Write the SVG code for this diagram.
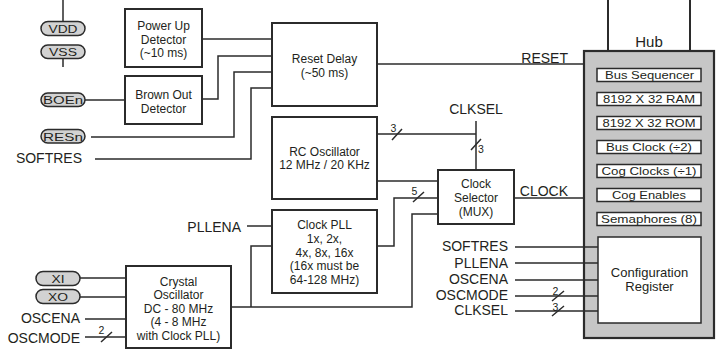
<svg xmlns="http://www.w3.org/2000/svg" width="720" height="349" viewBox="0 0 720 349">
<style>
text{font-family:"Liberation Sans",Arial,sans-serif;fill:#231f20}
.box{fill:#fff;stroke:#2b2b2b;stroke-width:2}
.pill{fill:#d2d2d2;stroke:#2b2b2b;stroke-width:1.5}
.w{fill:none;stroke:#2b2b2b;stroke-width:1.5}
.bt{font-size:12px;text-anchor:middle}
.lb{font-size:14px}
.pt{font-size:11.4px;text-anchor:middle}
.ht{font-size:11.5px;text-anchor:middle}
.n{font-size:10.5px}
.e{text-anchor:end}
.ib{fill:#fff;stroke:#2b2b2b;stroke-width:1.5}
</style>
<g id="connectors">
<path class="w" d="M63,0V21.5M63,58.5V67"/>
<path class="w" d="M85,100H125"/>
<path class="w" d="M202,39H272"/>
<path class="w" d="M202,99H218V56H272"/>
<path class="w" d="M91,137H234V72H272"/>
<path class="w" d="M95,159H251V88H272"/>
<path class="w" d="M377,64H584"/>
<path class="w" d="M377,134H476M476,121V170"/>
<path class="w" d="M377,181H438"/>
<path class="w" d="M514,198H584"/>
<path class="w" d="M247,226H272"/>
<path class="w" d="M377,246H394V198H438"/>
<path class="w" d="M231,307H412V214H438"/>
<path class="w" d="M251,307V246H272"/>
<path class="w" d="M80,278H126M80,297H126M85,319H126M85,337H126"/>
<path class="w" d="M515,247H598M515,263H598M515,280H598M515,296H598M515,311H598"/>
<path class="w" d="M608,0V51M690,0V51" style="stroke-width:2"/>
<path class="w" d="M392,140L402,129M471,150L481,139M413,202L424,192M101,342L112,332M552,301L564,291M552,316L564,306"/>
<text class="n" x="393.5" y="132" text-anchor="middle">3</text>
<text class="n" x="478" y="153">3</text>
<text class="n" x="414.5" y="195" text-anchor="middle">5</text>
<text class="n" x="101.5" y="334" text-anchor="middle">2</text>
<text class="n" x="555.5" y="295" text-anchor="middle">2</text>
<text class="n" x="555.5" y="311" text-anchor="middle">3</text>
<text class="lb e" x="568" y="63">RESET</text>
<text class="lb" x="476" y="114" text-anchor="middle">CLKSEL</text>
<text class="lb e" x="568" y="196">CLOCK</text>
</g>
<g id="vdd"><rect class="pill" x="41" y="21.5" width="44" height="14" rx="7"/><text class="pt" x="63" y="33.2" textLength="29" lengthAdjust="spacingAndGlyphs">VDD</text></g>
<g id="vss"><rect class="pill" x="41" y="45" width="44" height="13.5" rx="6.75"/><text class="pt" x="63" y="56.3" textLength="28" lengthAdjust="spacingAndGlyphs">VSS</text></g>
<g id="boen"><rect class="pill" x="41" y="93" width="44" height="13.5" rx="6.75"/><text class="pt" x="63" y="104" textLength="40" lengthAdjust="spacingAndGlyphs">BOEn</text></g>
<g id="resn"><rect class="pill" x="41" y="129.5" width="44" height="13.5" rx="6.75"/><text class="pt" x="63" y="140.5" textLength="40" lengthAdjust="spacingAndGlyphs">RESn</text></g>
<g id="softres-l"><text class="lb e" x="82" y="163">SOFTRES</text></g>
<g id="xi"><rect class="pill" x="36" y="271.5" width="44" height="14" rx="7"/><text class="pt" x="58" y="283.3" textLength="13" lengthAdjust="spacingAndGlyphs">XI</text></g>
<g id="xo"><rect class="pill" x="36" y="289.5" width="44" height="14" rx="7"/><text class="pt" x="58" y="301.2" textLength="20" lengthAdjust="spacingAndGlyphs">XO</text></g>
<g id="oscena-l"><text class="lb e" x="80" y="323">OSCENA</text></g>
<g id="oscmode-l"><text class="lb e" x="80" y="343">OSCMODE</text></g>
<g id="pllena-l"><text class="lb e" x="241" y="232">PLLENA</text></g>
<g id="powerup"><rect class="box" x="125" y="9" width="77" height="58"/>
<text class="bt" x="163.5" y="30">Power Up</text><text class="bt" x="163.5" y="43.5">Detector</text><text class="bt" x="163.5" y="57">(~10 ms)</text></g>
<g id="brownout"><rect class="box" x="125" y="76" width="77" height="48"/>
<text class="bt" x="163.5" y="99">Brown Out</text><text class="bt" x="163.5" y="113">Detector</text></g>
<g id="resetdelay"><rect class="box" x="272" y="23" width="105" height="83"/>
<text class="bt" x="324.5" y="63">Reset Delay</text><text class="bt" x="324.5" y="76.5">(~50 ms)</text></g>
<g id="rcosc"><rect class="box" x="272" y="117" width="105" height="82"/>
<text class="bt" x="324.5" y="156">RC Oscillator</text><text class="bt" x="324.5" y="169">12 MHz / 20 KHz</text></g>
<g id="clockpll"><rect class="box" x="272" y="210" width="105" height="83"/>
<text class="bt" x="324.5" y="229">Clock PLL</text><text class="bt" x="324.5" y="243">1x, 2x,</text><text class="bt" x="324.5" y="256.5">4x, 8x, 16x</text><text class="bt" x="324.5" y="270">(16x must be</text><text class="bt" x="324.5" y="283.5">64-128 MHz)</text></g>
<g id="clocksel"><rect class="box" x="438" y="170" width="76" height="54"/>
<text class="bt" x="476" y="188">Clock</text><text class="bt" x="476" y="202">Selector</text><text class="bt" x="476" y="215.5">(MUX)</text></g>
<g id="crystal"><rect class="box" x="126" y="266" width="105" height="82"/>
<text class="bt" x="178.5" y="285.5">Crystal</text><text class="bt" x="178.5" y="299">Oscillator</text><text class="bt" x="178.5" y="312.5">DC - 80 MHz</text><text class="bt" x="178.5" y="326">(4 - 8 MHz</text><text class="bt" x="178.5" y="339.5">with Clock PLL)</text></g>
<g id="softres-r"><text class="lb e" x="508" y="251">SOFTRES</text></g>
<g id="pllena-r"><text class="lb e" x="508" y="267.5">PLLENA</text></g>
<g id="oscena-r"><text class="lb e" x="508" y="284">OSCENA</text></g>
<g id="oscmode-r"><text class="lb e" x="508" y="300">OSCMODE</text></g>
<g id="clksel-r"><text class="lb e" x="508" y="315">CLKSEL</text></g>
<g id="hub">
<text x="649" y="47" style="font-size:15px;text-anchor:middle">Hub</text>
<rect x="584" y="51" width="130" height="287" style="fill:#c6c6c6;stroke:#2b2b2b;stroke-width:2.2"/>
<g id="bus-seq"><rect class="ib" x="597" y="68.5" width="104" height="13"/><text class="ht" x="649.5" y="79" textLength="89" lengthAdjust="spacingAndGlyphs">Bus Sequencer</text></g>
<g id="ram"><rect class="ib" x="597" y="92.5" width="104" height="13"/><text class="ht" x="649" y="103" textLength="92" lengthAdjust="spacingAndGlyphs">8192 X 32 RAM</text></g>
<g id="rom"><rect class="ib" x="597" y="116.5" width="104" height="13"/><text class="ht" x="649" y="127" textLength="93" lengthAdjust="spacingAndGlyphs">8192 X 32 ROM</text></g>
<g id="busclk"><rect class="ib" x="597" y="140.5" width="104" height="13"/><text class="ht" x="649" y="151" textLength="86" lengthAdjust="spacingAndGlyphs">Bus Clock (÷2)</text></g>
<g id="cogclk"><rect class="ib" x="597" y="164.5" width="104" height="13"/><text class="ht" x="649" y="175" textLength="95" lengthAdjust="spacingAndGlyphs">Cog Clocks (÷1)</text></g>
<g id="cogen"><rect class="ib" x="597" y="188.5" width="104" height="13"/><text class="ht" x="649" y="199" textLength="74" lengthAdjust="spacingAndGlyphs">Cog Enables</text></g>
<g id="sema"><rect class="ib" x="597" y="212.5" width="104" height="13"/><text class="ht" x="649" y="223" textLength="96" lengthAdjust="spacingAndGlyphs">Semaphores (8)</text></g>
<g id="config"><rect class="ib" x="598" y="237" width="103" height="86"/><text x="649.5" y="277" style="font-size:13px;text-anchor:middle">Configuration</text><text x="649.5" y="291" style="font-size:13px;text-anchor:middle">Register</text></g>
</g>
<path class="w" d="M584,247H598M584,263H598M584,280H598M584,296H598M584,311H598"/>
</svg>
